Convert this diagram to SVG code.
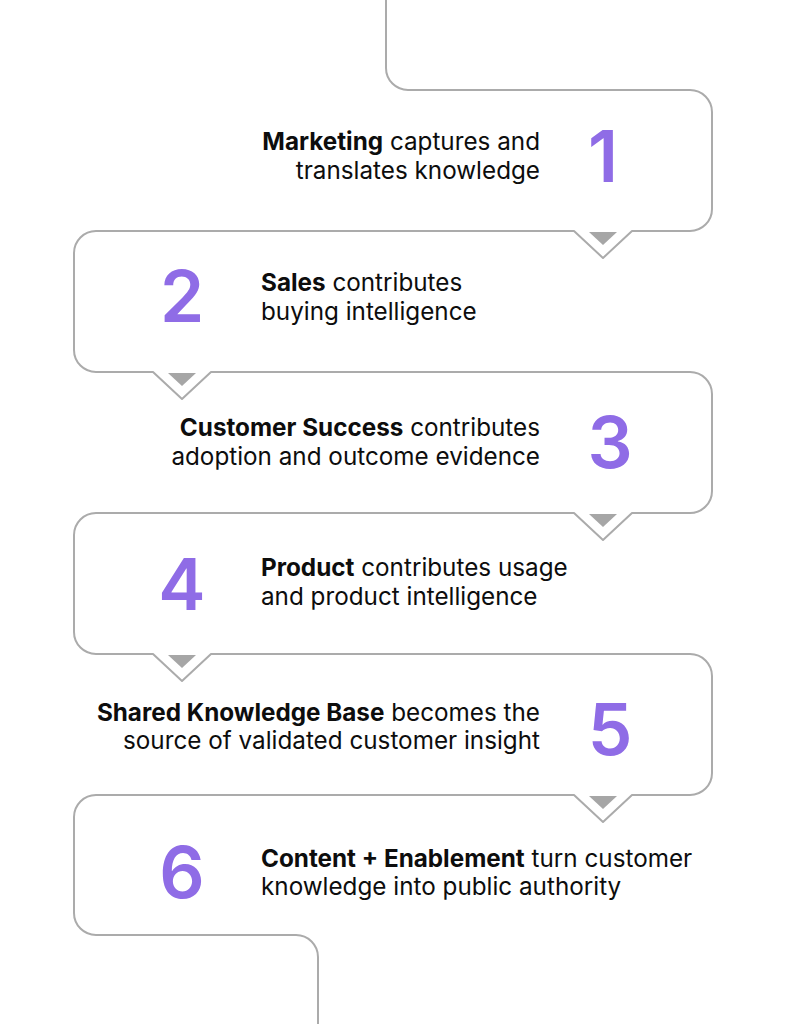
<svg xmlns="http://www.w3.org/2000/svg" width="789" height="1024" viewBox="0 0 789 1024">
<style>
.line{fill:none;stroke:#ababab;stroke-width:2;stroke-linejoin:round}
.tri{fill:#a6a6a6}
.num{font-family:Inter,"Noto Sans",sans-serif;font-size:71px;font-weight:600;fill:#8f6ce6;text-anchor:middle}
.t{font-family:Inter,"Noto Sans",sans-serif;font-size:24.25px;fill:#0d0d0d}
.b{font-weight:700}
.r{text-anchor:end}
</style>
<rect width="789" height="1024" fill="#fff"/>
<g id="connectors">
<path class="line" d="M386,0 V68 A22,22 0 0 0 408,90 H690 A22,22 0 0 1 712,112 V209 A22,22 0 0 1 690,231 H632 L603,258 L574,231 H96 A22,22 0 0 0 74,253 V350 A22,22 0 0 0 96,372 H153 L182,399 L211,372 H690 A22,22 0 0 1 712,394 V491 A22,22 0 0 1 690,513 H632 L603,540 L574,513 H96 A22,22 0 0 0 74,535 V632 A22,22 0 0 0 96,654 H153 L182,681 L211,654 H690 A22,22 0 0 1 712,676 V773 A22,22 0 0 1 690,795 H632 L603,822 L574,795 H96 A22,22 0 0 0 74,817 V913 A22,22 0 0 0 96,935 H296 A22,22 0 0 1 318,957 V1024"/>
<path class="tri" d="M589,232 H617 L603,245 Z"/>
<path class="tri" d="M168,373 H196 L182,386 Z"/>
<path class="tri" d="M589,514 H617 L603,527 Z"/>
<path class="tri" d="M168,655 H196 L182,668 Z"/>
<path class="tri" d="M589,796 H617 L603,809 Z"/>
</g>
<g id="node1">
<text class="num" x="603" y="182">1</text>
<text class="t r" x="540" y="150"><tspan class="b">Marketing</tspan> captures and</text>
<text class="t r" x="540" y="179">translates knowledge</text>
</g>
<g id="node2">
<text class="num" x="182" y="322">2</text>
<text class="t" x="261" y="291"><tspan class="b">Sales</tspan> contributes</text>
<text class="t" x="261" y="320">buying intelligence</text>
</g>
<g id="node3">
<text class="num" x="610" y="468">3</text>
<text class="t r" x="540" y="436"><tspan class="b">Customer Success</tspan> contributes</text>
<text class="t r" x="540" y="465">adoption and outcome evidence</text>
</g>
<g id="node4">
<text class="num" x="182" y="610">4</text>
<text class="t" x="261" y="576"><tspan class="b">Product</tspan> contributes usage</text>
<text class="t" x="261" y="605">and product intelligence</text>
</g>
<g id="node5">
<text class="num" x="610" y="755">5</text>
<text class="t r" x="540" y="721"><tspan class="b">Shared Knowledge Base</tspan> becomes the</text>
<text class="t r" x="540" y="749">source of validated customer insight</text>
</g>
<g id="node6">
<text class="num" x="182" y="898">6</text>
<text class="t" x="261" y="867"><tspan class="b">Content + Enablement</tspan> turn customer</text>
<text class="t" x="261" y="895">knowledge into public authority</text>
</g>
</svg>
